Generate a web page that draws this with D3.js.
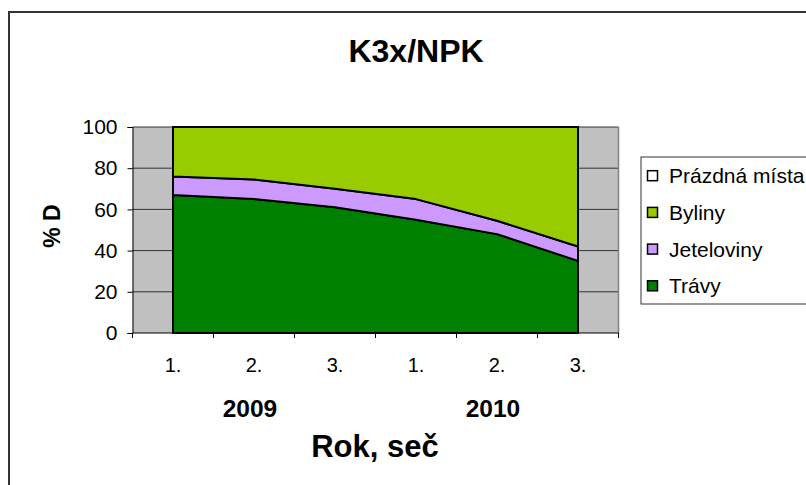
<!DOCTYPE html>
<html>
<head>
<meta charset="utf-8">
<script src="https://cdn.jsdelivr.net/npm/d3@7"></script>
<style>
  html, body { margin: 0; padding: 0; background: #fff; }
  svg { display: block; }
  text { font-family: "Liberation Sans", Arial, sans-serif; fill: #000; }
</style>
</head>
<body>
<svg id="chart" width="806" height="485"></svg>
<script>
// Cut labels (three cuts per year) and the year each group belongs to
const categories = ["1.", "2.", "3.", "1.", "2.", "3."];
const years = ["2009", "2010"];
const yearAt = [1, 4];           // category index under which each year label sits

// Share of dominance (% D) per cut
const travy      = [67, 65, 61, 55, 48, 35];
const jeteloviny = [9, 9.5, 9, 10, 6.5, 7];
const byliny     = [24, 25.5, 30, 35, 45.5, 58];
const prazdna    = [0, 0, 0, 0, 0, 0];

const seriesNames  = ["Trávy", "Jeteloviny", "Byliny", "Prázdná místa"];
const seriesColors = ["#008000", "#CC99FF", "#99CC00", "#FFFFFF"];
const yTicks = [0, 20, 40, 60, 80, 100];

const rows = categories.map((c, i) => ({
  i,
  "Trávy": travy[i],
  "Jeteloviny": jeteloviny[i],
  "Byliny": byliny[i],
  "Prázdná místa": prazdna[i]
}));

const svg = d3.select("#chart");
const plot = { left: 132.5, right: 618.5, top: 127, bottom: 333 };

// outer frame
svg.append("rect")
  .attr("x", 9).attr("y", 12).attr("width", 820).attr("height", 500)
  .attr("fill", "#fff").attr("stroke", "#333").attr("stroke-width", 2);

const xBand = d3.scaleBand().domain(d3.range(categories.length))
  .range([plot.left, plot.right]).paddingInner(0).paddingOuter(0);
const x = i => xBand(i) + xBand.bandwidth() / 2;
const y = d3.scaleLinear().domain([0, 100]).range([plot.bottom, plot.top]);

// plot background
svg.append("rect")
  .attr("x", plot.left).attr("y", plot.top)
  .attr("width", plot.right - plot.left).attr("height", plot.bottom - plot.top)
  .attr("fill", "#C0C0C0");

// horizontal gridlines
svg.append("g").selectAll("line").data(yTicks.filter(t => t > 0)).join("line")
  .attr("x1", plot.left).attr("x2", plot.right)
  .attr("y1", d => y(d)).attr("y2", d => y(d))
  .attr("stroke", "#333").attr("stroke-width", 1);

// right border of the plot area
svg.append("line")
  .attr("x1", plot.right).attr("x2", plot.right)
  .attr("y1", plot.top).attr("y2", plot.bottom)
  .attr("stroke", "#808080").attr("stroke-width", 1.5);

// stacked areas
const stack = d3.stack().keys(seriesNames);
const stacked = stack(rows);
const area = d3.area()
  .x(d => x(d.data.i))
  .y0(d => y(d[0]))
  .y1(d => y(d[1]));

svg.append("g").selectAll("path").data(stacked).join("path")
  .attr("d", d => area(d) + "Z")
  .attr("fill", (d, k) => seriesColors[k])
  .attr("stroke", "#000").attr("stroke-width", 2)
  .attr("stroke-linejoin", "round");

// y axis
const yAxis = d3.axisLeft(y).tickValues(yTicks).tickSize(5).tickPadding(10);
const gy = svg.append("g").attr("transform", `translate(${plot.left},0)`).call(yAxis);
gy.select(".domain").attr("stroke", "#000");
gy.selectAll(".tick line").attr("stroke", "#000");
gy.selectAll(".tick text")
  .attr("font-size", 21).attr("font-family", "Liberation Sans, Arial, sans-serif")
  .attr("fill", "#000");

// x axis: ticks between categories, labels centered
svg.append("line")
  .attr("x1", plot.left).attr("x2", plot.right)
  .attr("y1", plot.bottom).attr("y2", plot.bottom)
  .attr("stroke", "#000");
svg.append("g").selectAll("line").data(d3.range(categories.length + 1)).join("line")
  .attr("x1", i => i < categories.length ? xBand(i) : plot.right)
  .attr("x2", i => i < categories.length ? xBand(i) : plot.right)
  .attr("y1", plot.bottom).attr("y2", plot.bottom + 5)
  .attr("stroke", "#000");
svg.append("g").selectAll("text").data(categories).join("text")
  .attr("x", (d, i) => x(i)).attr("y", 372)
  .attr("text-anchor", "middle").attr("font-size", 20)
  .text(d => d);

// year labels
svg.append("g").selectAll("text").data(years).join("text")
  .attr("x", (d, k) => x(yearAt[k]) - 4).attr("y", 417)
  .attr("text-anchor", "middle").attr("font-size", 24.5).attr("font-weight", "bold")
  .text(d => d);

// axis titles
svg.append("text")
  .attr("x", 375).attr("y", 457)
  .attr("text-anchor", "middle").attr("font-size", 31).attr("font-weight", "bold")
  .text("Rok, seč");

svg.append("text")
  .attr("transform", "translate(60,226) rotate(-90)")
  .attr("text-anchor", "middle").attr("font-size", 23).attr("font-weight", "bold")
  .text("% D");

// title
svg.append("text")
  .attr("x", 416).attr("y", 62)
  .attr("text-anchor", "middle").attr("font-size", 32).attr("font-weight", "bold")
  .text("K3x/NPK");

// legend (top-most series first)
const legend = svg.append("g");
legend.append("rect")
  .attr("x", 641).attr("y", 157).attr("width", 200).attr("height", 147)
  .attr("fill", "#fff").attr("stroke", "#333").attr("stroke-width", 1);
const order = [3, 2, 1, 0];
const items = legend.selectAll("g.item").data(order).join("g")
  .attr("class", "item")
  .attr("transform", (k, j) => `translate(0,${175.7 + j * 36.7})`);
items.append("rect")
  .attr("x", 647.5).attr("y", -5).attr("width", 10).attr("height", 10)
  .attr("fill", k => seriesColors[k]).attr("stroke", "#000").attr("stroke-width", 1.5);
items.append("text")
  .attr("x", 669).attr("y", 7.5)
  .attr("font-size", 21)
  .text(k => seriesNames[k]);
</script>
</body>
</html>
